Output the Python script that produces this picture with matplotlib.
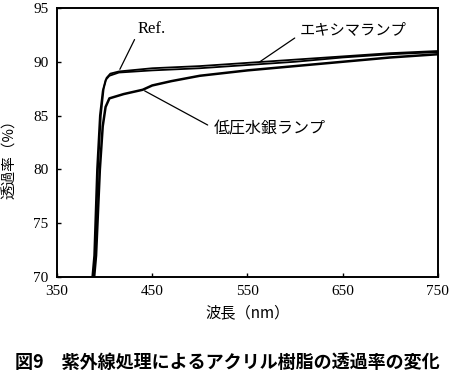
import matplotlib
matplotlib.use("Agg")
import matplotlib.pyplot as plt

wl_ref = [388, 390, 393, 396, 399, 402, 406, 415, 450, 500, 550, 600, 650, 700, 750]
t_ref = [70, 72, 80, 85, 87.5, 88.5, 88.9, 89.1, 89.4, 89.6, 89.9, 90.2, 90.5, 90.8, 91.0]

wl_exc = [387, 389, 392, 395, 398, 401, 405, 415, 450, 500, 550, 600, 650, 700, 750]
t_exc = [70, 72, 80, 85, 87.3, 88.3, 88.7, 89.0, 89.2, 89.4, 89.7, 90.0, 90.4, 90.7, 90.9]

wl_lp = [389, 391, 395, 398, 401, 405, 420, 440, 450, 470, 500, 530, 550, 600, 650, 700, 750]
t_lp = [70, 72, 80, 84, 85.8, 86.6, 87.0, 87.4, 87.8, 88.2, 88.7, 89.0, 89.2, 89.6, 90.0, 90.4, 90.7]

xticks = [350, 450, 550, 650, 750]
yticks = [70, 75, 80, 85, 90, 95]

serif = ["Liberation Serif", "DejaVu Serif"]
jp = ["Noto Sans CJK JP", "DejaVu Sans"]

fig = plt.figure(figsize=(4.58, 3.79), dpi=100)
ax = fig.add_axes([0.1245, 0.269, 0.8315, 0.71])
ax.plot(wl_ref, t_ref, color="black", lw=1.3)
ax.plot(wl_exc, t_exc, color="black", lw=1.3)
ax.plot(wl_lp, t_lp, color="black", lw=1.8)
ax.set_xlim(350, 750)
ax.set_ylim(70, 95)
ax.set_xticks(xticks)
ax.set_yticks(yticks)
ax.set_xticklabels([str(v) for v in xticks], family=serif, fontsize=11)
ax.set_yticklabels([str(v) for v in yticks], family=serif, fontsize=11)
ax.tick_params(direction="in", length=3, width=1, pad=6)
for s in ax.spines.values():
    s.set_linewidth(1.4)
ax.set_xlabel("波長（nm）", family=jp, fontsize=11, labelpad=4)
ax.set_ylabel("透過率（%）", family=jp, fontsize=10.5)
ax.yaxis.set_label_coords(-0.105, 0.45)

ax.annotate("Ref.", xy=(416, 89.3), xytext=(435, 93.0), family=serif, fontsize=12,
            ha="left", va="center",
            arrowprops=dict(arrowstyle="-", color="black", lw=0.9, shrinkA=1, shrinkB=0,
                            relpos=(0.0, 0.3)))
ax.annotate("エキシマランプ", xy=(563, 90.0), xytext=(605, 93.0), family=jp, fontsize=11,
            ha="left", va="center",
            arrowprops=dict(arrowstyle="-", color="black", lw=0.9, shrinkA=2, shrinkB=0,
                            relpos=(0.0, 0.2)))
ax.annotate("低圧水銀ランプ", xy=(442, 87.3), xytext=(515, 83.8), family=jp, fontsize=11.5,
            ha="left", va="center",
            arrowprops=dict(arrowstyle="-", color="black", lw=0.9, shrinkA=3, shrinkB=0,
                            relpos=(0.0, 0.5)))

fig.text(0.033, 0.028, "図9　紫外線処理によるアクリル樹脂の透過率の変化", family=jp,
         fontsize=13, fontweight="bold")
fig.savefig("out.png", dpi=100)
